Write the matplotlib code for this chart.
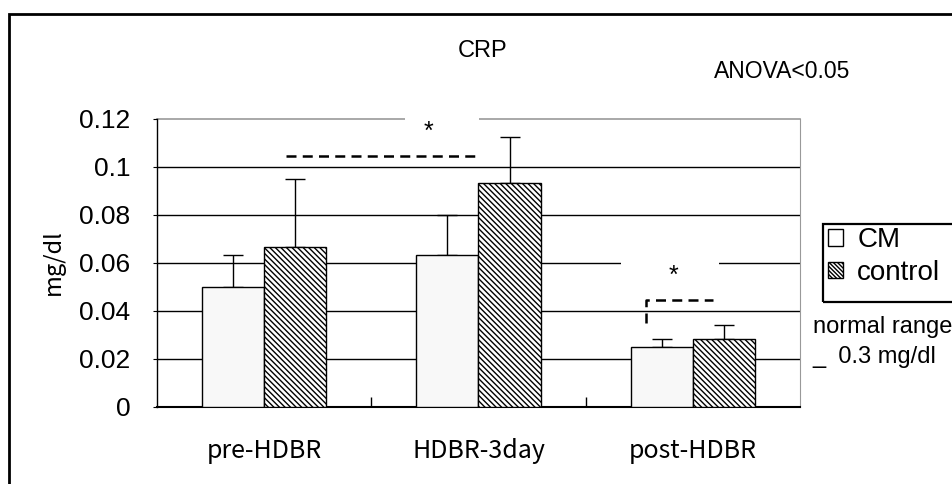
import matplotlib
matplotlib.use("Agg")
import matplotlib.pyplot as plt
from matplotlib.patches import Patch, Rectangle
import numpy as np

# data
groups = ["pre-HDBR", "HDBR-3day", "post-HDBR"]
cm_mean = [0.050, 0.0633, 0.025]
cm_err = [0.0133, 0.0167, 0.0033]
ctrl_mean = [0.0667, 0.0933, 0.0283]
ctrl_err = [0.0283, 0.0192, 0.0057]
yticks = [0, 0.02, 0.04, 0.06, 0.08, 0.1, 0.12]
ytick_labels = ["0", "0.02", "0.04", "0.06", "0.08", "0.1", "0.12"]

plt.rcParams["font.family"] = ["Liberation Sans", "DejaVu Sans"]
plt.rcParams["hatch.linewidth"] = 1.0
jp = ["Noto Sans CJK JP", "DejaVu Sans"]

W, H = 953, 484
fig = plt.figure(figsize=(W / 100, H / 100), dpi=100)
ax = fig.add_axes([157 / W, 1 - 407 / H, (800 - 157) / W, (407 - 119) / H])

x = np.arange(len(groups))
bw = 0.29
hatch = "\\" * 6

ax.bar(x - bw / 2, cm_mean, bw, facecolor="#f8f8f8", edgecolor="black", lw=1, zorder=3)
ax.bar(x + bw / 2, ctrl_mean, bw, facecolor="white", edgecolor="black", hatch=hatch, lw=1, zorder=3)
ax.errorbar(x - bw / 2, cm_mean, yerr=[np.zeros(3), cm_err], fmt="none", ecolor="black",
            elinewidth=1, capsize=7, capthick=1, zorder=2)
ax.errorbar(x + bw / 2, ctrl_mean, yerr=[np.zeros(3), ctrl_err], fmt="none", ecolor="black",
            elinewidth=1, capsize=7, capthick=1, zorder=2)

# gridlines
for v in yticks[1:-1]:
    ax.axhline(v, color="black", lw=1, zorder=1)
ax.axhline(0.12, color="#999999", lw=1.2, zorder=1, clip_on=False)

ax.set_xlim(-0.5, 2.5)
ax.set_ylim(0, 0.12)
ax.spines["top"].set_visible(False)
ax.spines["right"].set_color("#999999")
ax.spines["left"].set_linewidth(1)
ax.spines["bottom"].set_linewidth(1.5)

ax.set_yticks(yticks)
ax.set_yticklabels(ytick_labels, fontsize=19)
ax.tick_params(axis="y", length=3, pad=16)
ax.set_xticks(x)
ax.set_xticklabels(groups, fontfamily=jp, fontsize=18)
ax.tick_params(axis="x", length=0, pad=22)
ax.set_xticks([0.5, 1.5], minor=True)
ax.tick_params(axis="x", which="minor", direction="in", length=7, width=1)

# significance marks (white boxes break the gridlines behind the stars)
ax.add_patch(Rectangle((0.657, 0.1170), 0.345, 0.006, facecolor="white", edgecolor="none",
                       zorder=1.5, clip_on=False))
ax.text(0.765, 0.1148, "*", fontsize=18, ha="center", va="center", zorder=4)
ax.plot([0.1, 1.0], [0.1046, 0.1046], color="black", lw=1.8, ls=(0, (4, 2.5)), zorder=4)

ax.add_patch(Rectangle((1.665, 0.0575), 0.457, 0.005, facecolor="white", edgecolor="none",
                       zorder=1.5))
ax.text(1.908, 0.0548, "*", fontsize=18, ha="center", va="center", zorder=4)
ax.plot([1.78, 1.78, 2.094], [0.0351, 0.0446, 0.0446], color="black", lw=1.8,
        ls=(0, (4, 2.5)), zorder=4)

# texts
fig.text(483 / W, 1 - 51 / H, "CRP", fontsize=17, ha="center", va="center")
fig.text(782 / W, 1 - 72 / H, "ANOVA<0.05", fontsize=16.5, ha="center", va="center")
fig.text(53 / W, 1 - 262 / H, "mg/dl", fontfamily=jp, fontsize=17, rotation=90,
         ha="center", va="center")
fig.text(813 / W, 1 - 327 / H, "normal range", fontsize=17, ha="left", va="center")
fig.text(812 / W, 1 - 357 / H, "_  0.3 mg/dl", fontsize=17, ha="left", va="center")

handles = [Patch(facecolor="white", edgecolor="black", lw=1),
           Patch(facecolor="white", edgecolor="black", hatch="\\" * 8, lw=1)]
leg = fig.legend(handles, ["CM", "control"], loc="upper left",
                 bbox_to_anchor=(828 / W, 1 - 227 / H), bbox_transform=fig.transFigure,
                 fontsize=20, frameon=False, borderaxespad=0,
                 handlelength=0.55, handleheight=0.55, handletextpad=0.5,
                 labelspacing=0.25, borderpad=0.0)
# legend frame runs off the right edge like in the original
fig.add_artist(Rectangle((823 / W, 1 - 302 / H), 0.2, 78 / H, transform=fig.transFigure,
                         fill=False, edgecolor="black", lw=1.6))

# outer frame, running off the right and bottom edges
fig.add_artist(Rectangle((9 / W, -0.2), 1.2, 1.2 - 14 / H, transform=fig.transFigure,
                         fill=False, edgecolor="black", lw=2))

fig.savefig("out.png", dpi=100)
